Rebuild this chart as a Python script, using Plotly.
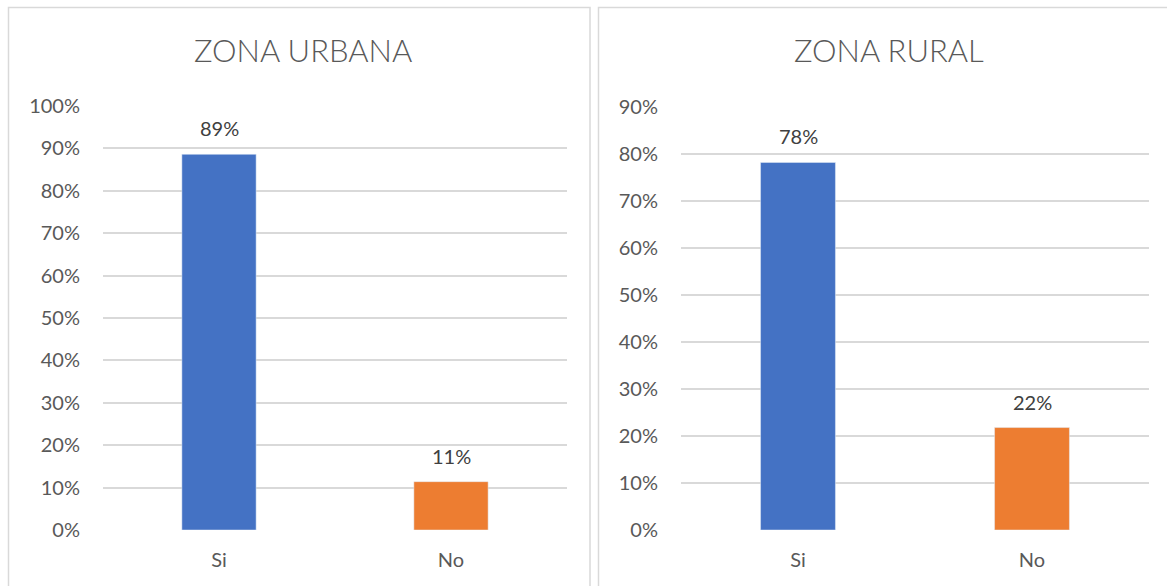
import plotly.graph_objects as go

categories = ["Si", "No"]
urbana_values = [0.886, 0.114]
rural_values = [0.782, 0.218]
bar_colors = ["#4472C4", "#ED7D31"]
titles = ["ZONA URBANA", "ZONA RURAL"]
urbana_ticks = [i / 10 for i in range(0, 11)]
rural_ticks = [i / 10 for i in range(0, 10)]

W, H = 1167, 586
FONT = "Lato"

def px_x(v):
    return v / W

def px_y(v):
    return 1 - v / H

fig = go.Figure()

fig.add_trace(go.Bar(x=categories, y=urbana_values, marker_color=bar_colors,
                     width=0.32, xaxis="x", yaxis="y", showlegend=False,
                     hoverinfo="x+y"))
fig.add_trace(go.Bar(x=categories, y=rural_values, marker_color=bar_colors,
                     width=0.32, xaxis="x2", yaxis="y2", showlegend=False,
                     hoverinfo="x+y"))

ydom = [px_y(530), px_y(106)]
ydom2 = [px_y(530), px_y(107)]
grid = "#d9d9d9"
tickfont = dict(family=FONT, size=20, color="#595959")

common_y = dict(showgrid=True, gridcolor=grid, gridwidth=1.5, zeroline=False,
                showline=False, tickformat=".0%", tickfont=tickfont,
                ticks="", ticklabelstandoff=22, fixedrange=True, automargin=False)
common_x = dict(showgrid=False, zeroline=False, showline=False, ticks="",
                tickfont=tickfont, ticklabelstandoff=16, automargin=False,
                range=[-0.5, 1.5], type="category")

fig.update_layout(
    width=W, height=H, autosize=False,
    margin=dict(l=0, r=0, t=0, b=0, pad=0),
    paper_bgcolor="white", plot_bgcolor="white",
    xaxis=dict(domain=[px_x(103), px_x(567)], anchor="y", **common_x),
    yaxis=dict(domain=ydom, anchor="x", range=[0, 1.0],
               tickvals=urbana_ticks, **common_y),
    xaxis2=dict(domain=[px_x(681), px_x(1149)], anchor="y2", **common_x),
    yaxis2=dict(domain=ydom2, anchor="x2", range=[0, 0.9],
                tickvals=rural_ticks, **common_y),
)

annotations = []
for xa, ya, vals in (("x", "y", urbana_values), ("x2", "y2", rural_values)):
    for c, v in zip(categories, vals):
        annotations.append(dict(x=c, y=v, xref=xa, yref=ya, text=f"{round(v*100)}%",
                                showarrow=False, yanchor="bottom", yshift=12,
                                font=dict(family=FONT, size=20, color="#404040")))

annotations.append(dict(x=px_x(303), y=px_y(50), xref="paper", yref="paper",
                        text=titles[0], showarrow=False, xanchor="center", yanchor="middle",
                        font=dict(family=FONT, size=31, color="#595959", weight=300)))
annotations.append(dict(x=px_x(889), y=px_y(50), xref="paper", yref="paper",
                        text=titles[1], showarrow=False, xanchor="center", yanchor="middle",
                        font=dict(family=FONT, size=31, color="#595959", weight=300)))
fig.update_layout(annotations=annotations)

box_line = dict(color="#d9d9d9", width=1.5)
fig.update_layout(shapes=[
    dict(type="rect", xref="paper", yref="paper",
         x0=px_x(8.5), x1=px_x(590), y0=-0.1, y1=px_y(7.5), line=box_line),
    dict(type="rect", xref="paper", yref="paper",
         x0=px_x(598.5), x1=1.1, y0=-0.1, y1=px_y(7.5), line=box_line),
])

fig.write_html(
    "out.html",
    config={"displayModeBar": False},
    post_script="document.body.style.margin='0';document.body.style.overflow='hidden';",
)
